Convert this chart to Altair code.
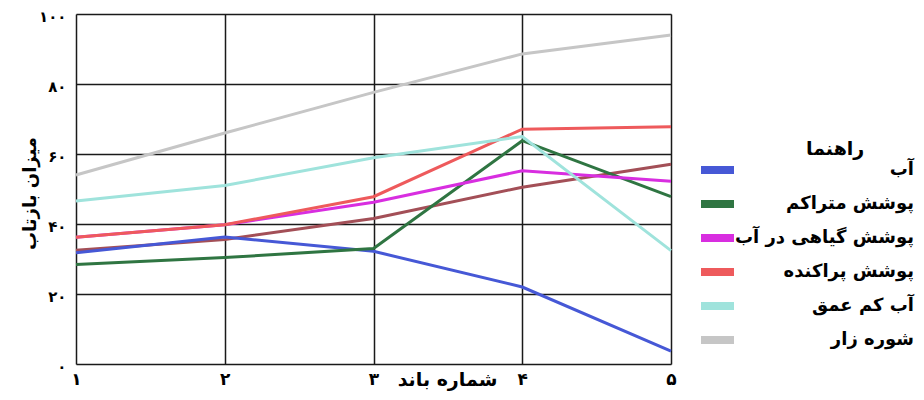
import altair as alt
import pandas as pd

bands = [1, 2, 3, 4, 5]
band_labels = ["۱", "۲", "۳", "۴", "۵"]
y_ticks = [0, 20, 40, 60, 80, 100]
y_labels = ["۰", "۲۰", "۴۰", "۶۰", "۸۰", "۱۰۰"]

series_names = ["آب", "پوشش متراکم", "پوشش گیاهی در آب", "پوشش پراکنده", "آب کم عمق", "شوره زار"]
series_colors = ["#4658d6", "#2f7542", "#d82ee0", "#ee5a5c", "#9fe3dc", "#c6c6c6"]

water = [31.8, 36.3, 32.2, 22.0, 3.7]
dense = [28.4, 30.4, 33.0, 63.8, 47.8]
aquatic = [36.2, 39.8, 46.2, 55.2, 52.2]
sparse = [36.2, 39.8, 47.8, 67.1, 67.8]
shallow = [46.6, 51.0, 58.9, 65.0, 32.4]
saline = [54.0, 66.0, 77.6, 88.6, 94.0]
unlabeled = [32.5, 35.6, 41.6, 50.5, 57.1]

series_values = [water, dense, aquatic, sparse, shallow, saline]

rows = []
for name, vals in zip(series_names, series_values):
    for b, v in zip(bands, vals):
        rows.append({"band": b, "value": v, "series": name})
df = pd.DataFrame(rows)
df_extra = pd.DataFrame({"band": bands, "value": unlabeled})

FONT = "DejaVu Sans"

def label_expr(ticks, labels):
    expr = "datum.label"
    for t, l in zip(reversed(ticks), reversed(labels)):
        expr = f"datum.value == {t} ? '{l}' : ({expr})"
    return expr

x_enc = alt.X(
    "band:Q",
    scale=alt.Scale(domain=[1, 5], nice=False),
    axis=alt.Axis(
        values=bands,
        labelExpr=label_expr(bands, band_labels),
        title="شماره باند",
        titleFont=FONT, titleFontSize=19, titleFontWeight="bold", titleColor="black",
        titleX=371, titleY=15, titleBaseline="middle",
        labelFont=FONT, labelFontSize=17, labelFontWeight="bold", labelColor="black",
        labelPadding=7, ticks=False, domain=False,
        grid=True, gridColor="#1a1a1a", gridWidth=1.5, gridOpacity=1,
        labelFlush=False,
    ),
)
y_enc = alt.Y(
    "value:Q",
    scale=alt.Scale(domain=[0, 100], nice=False),
    axis=alt.Axis(
        values=y_ticks,
        labelExpr=label_expr(y_ticks, y_labels),
        title="میزان بازتاب",
        titleFont=FONT, titleFontSize=18, titleFontWeight="bold", titleColor="black",
        titleX=-46, titleY=179, titleAngle=-90, titleBaseline="middle",
        labelFont=FONT, labelFontSize=15, labelFontWeight="bold", labelColor="black",
        labelPadding=10, labelOffset=2, ticks=False, domain=False,
        grid=True, gridColor="#1a1a1a", gridWidth=1.5, gridOpacity=1,
    ),
)

color_scale = alt.Scale(domain=series_names, range=series_colors)
legend = alt.Legend(
    title="راهنما",
    orient="none", legendX=621, legendY=126,
    titleFont=FONT, titleFontSize=19, titleFontWeight="bold", titleColor="black",
    titleAlign="left", titleAnchor="middle", titlePadding=2,
    labelFont=FONT, labelFontSize=18, labelFontWeight="bold", labelColor="black",
    labelAlign="right", labelOffset=199, labelLimit=300,
    symbolType="M-10,0H56", symbolSize=1, symbolStrokeWidth=8,
    rowPadding=2, padding=0,
)

base_extra = alt.Chart(df_extra).mark_line(color="#a34f57", strokeWidth=3).encode(
    x=x_enc, y=y_enc
)

layers = [base_extra]
for name in series_names:
    layers.append(
        alt.Chart(df).transform_filter(alt.datum.series == name).mark_line(strokeWidth=3).encode(
            x=x_enc, y=y_enc,
            color=alt.Color("series:N", scale=color_scale, legend=legend),
        )
    )

chart = alt.layer(*layers).properties(
    width=595, height=350,
    autosize=alt.AutoSizeParams(type="none"),
    padding={"left": 68, "top": 6, "right": 245, "bottom": 28},
).configure_view(
    stroke="black", strokeWidth=2.5
).configure(background="white")

chart.save("out.html", embed_options={"renderer": "svg", "actions": False})
